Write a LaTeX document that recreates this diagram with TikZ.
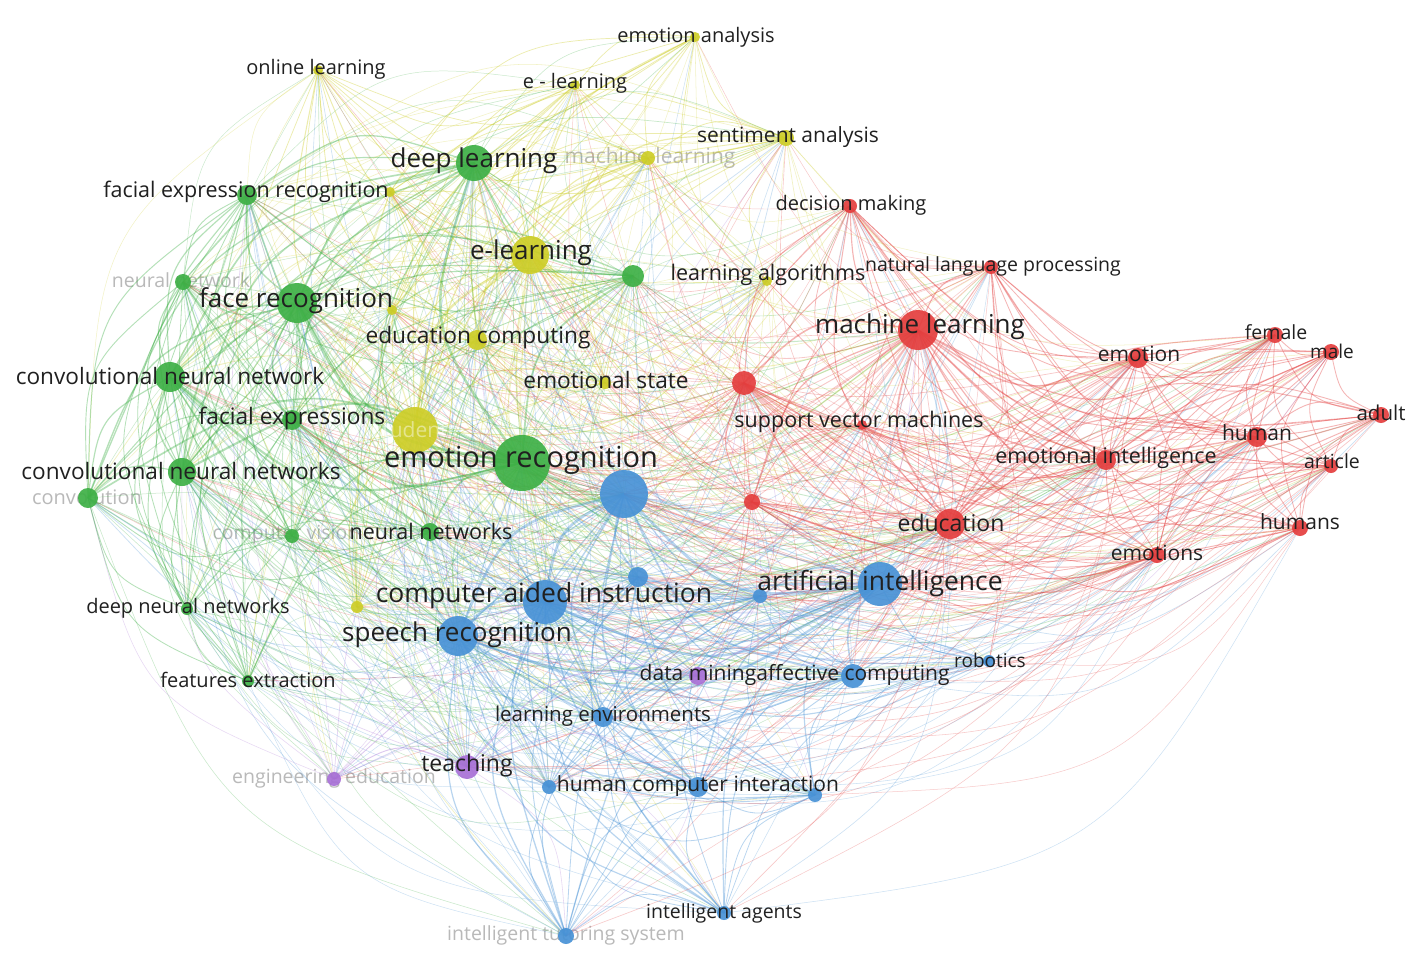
\documentclass[tikz,border=0pt]{standalone}
\usepackage{fontspec}
\setmainfont{Open Sans}
\definecolor{cR}{RGB}{228,62,62}
\definecolor{cG}{RGB}{62,176,70}
\definecolor{cB}{RGB}{72,146,214}
\definecolor{cY}{RGB}{206,206,40}
\definecolor{cP}{RGB}{168,112,214}
\definecolor{labc}{RGB}{32,32,32}
\definecolor{faintc}{RGB}{185,185,185}
\tikzset{
  labdark/.style={text=labc, inner sep=0pt},
  labfaint/.style={text=faintc, inner sep=0pt},
  kw/.style={circle, inner sep=0pt, opacity=0.92},
}
\def\nodelist{
ol/318/70/5/cY/4,
ea/695/37/5/cY/4,
el2/575/85/5/cY/4,
sa/786/138/8/cY/4,
mlh/648/158/7/cY/4,
el/530/255/19/cY/4,
ec/477/340/10/cY/4,
y1/392/310/5/cY/4,
es/605/383/6/cY/4,
st/415/430/23/cY/4,
y2/357/607/6/cY/4,
la/767/281/5/cY/4,
y3/390/192/5/cY/4,
dl/474/163/18/cG/2,
fer/247/195/10/cG/2,
nn1/183/282/8/cG/2,
g1/633/276/11/cG/2,
fr/297/303/20/cG/2,
cnn/170/377/15/cG/2,
fe/292/420/10/cG/2,
er/522/463/28/cG/2,
cnns/182/472/14/cG/2,
cv/88/498/10/cG/2,
cvis/292/536/7/cG/2,
nns/430/532/9/cG/2,
dnn/187/609/6/cG/2,
fex/248/681/6/cG/2,
b1/624/494/24/cB/3,
cai/545/602/22/cB/3,
b2/638/577/10/cB/3,
sr/458/636/20/cB/3,
ai/880/584/22/cB/3,
b3/760/596/7/cB/3,
rob/989/661/6/cB/3,
ac/853/676/12/cB/3,
le/603/717/10/cB/3,
hci/698/787/10/cB/3,
b4/549/787/7/cB/3,
b5/815/795/7/cB/3,
ia/724/913/7/cB/3,
its/566/936/8/cB/3,
dm/698/676/9/cP/5,
te/467/767/12/cP/5,
ee/334/779/7/cP/5,
dm2/850/206/7/cR/1,
nlp/991/267/7/cR/1,
ml/918/330/20/cR/1,
r1/744/383/12/cR/1,
svm/862/425/5/cR/1,
r2/752/502/8/cR/1,
emo/1138/358/10/cR/1,
fem/1275/335/8/cR/1,
mal/1331/352/8/cR/1,
adu/1381/415/8/cR/1,
hum/1257/437/10/cR/1,
art/1331/466/7/cR/1,
ei/1106/460/10/cR/1,
edu/950/524/15/cR/1,
hms/1300/528/8/cR/1,
ems/1157/555/8/cR/1}
\def\labellist{
ol/316/69/20/labdark/online learning,
ea/696/37/20/labdark/emotion analysis,
el2/575/83/20/labdark/e - learning,
sa/788/137/21/labdark/sentiment analysis,
el/531/253/26/labdark/e-learning,
ec/478/338/22.7/labdark/education computing,
es/606/380/22.7/labdark/emotional state,
la/768/275/21.5/labdark/learning algorithms,
dl/474/161/26/labdark/deep learning,
fer/246/192/21.5/labdark/facial expression recognition,
fr/296/301/26/labdark/face recognition,
cnn/170/376/22.6/labdark/convolutional neural network,
fe/292/419/22.7/labdark/facial expressions,
er/521/460/29/labdark/emotion recognition,
cnns/181/471/22.6/labdark/convolutional neural networks,
nns/431/531/21.5/labdark/neural networks,
dnn/188/608/20/labdark/deep neural networks,
fex/248/680/20/labdark/features extraction,
cai/544/596/26.5/labdark/computer aided instruction,
sr/457/635/26/labdark/speech recognition,
ai/880/584/26.5/labdark/artificial intelligence,
rob/990/660/19/labdark/robotics,
ac/853/675/21/labdark/affective computing,
le/603/716/20.5/labdark/learning environments,
hci/698/786/21/labdark/human computer interaction,
ia/724/913/19.5/labdark/intelligent agents,
dm/698/675/21/labdark/data mining,
te/467/766/23/labdark/teaching,
dm2/851/205/20/labdark/decision making,
nlp/993/266/19.5/labdark/natural language processing,
ml/920/327/26/labdark/machine learning,
svm/859/422/21.5/labdark/support vector machines,
emo/1139/354/21/labdark/emotion,
fem/1276/332/19.5/labdark/female,
mal/1332/351/19/labdark/male,
adu/1381/413/20.5/labdark/adult,
hum/1257/433/21/labdark/human,
art/1332/461/19.5/labdark/article,
ei/1106/458/21.5/labdark/emotional intelligence,
edu/951/523/23/labdark/education,
hms/1300/522/21/labdark/humans,
ems/1157/553/21/labdark/emotions}
\def\faintlist{
mlh/650/158/21/labfaint/machine-learning,
nn1/181/280/19.5/labfaint/neural network,
cv/87/497/20/labfaint/convolution,
cvis/286/535/19.5/labfaint/computer vision,
its/566/935/19.5/labfaint/intelligent tutoring system,
ee/334/778/19.5/labfaint/engineering education}
\begin{document}
\begin{tikzpicture}[x=1pt,y=-1pt]
\fill[white] (0,0) rectangle (1418,959);
\useasboundingbox (0,0) rectangle (1418,959);
% coordinates of the keyword positions
\foreach \a/\ax/\ay/\ar/\ac/\ak in \nodelist {
  \coordinate (\a) at (\ax,\ay);
}
% faint (partly hidden) labels lie under the links
\foreach \a/\lx/\ly/\s/\st/\t in \faintlist {
  \node[\st, font=\fontsize{\s}{\s}\selectfont] (l\a) at (\lx,\ly) {\t};
}
% links (curved, like VOSviewer)
\pgfmathsetseed{4242}
\foreach \a/\ax/\ay/\ar/\ac/\ak [count=\i] in \nodelist {
  \foreach \b/\bx/\by/\br/\bc/\bk [count=\j] in \nodelist {
    \ifnum\j>\i\relax
      \pgfmathsetmacro\L{abs(\bx-\ax)+abs(\by-\ay)}
      \ifnum\ak=\bk\relax
        \pgfmathsetmacro\p{\ar*\br/30}
        \pgfmathsetmacro\w{0.6+\ar*\br/260}
        \def\op{0.38}
      \else
        \pgfmathsetmacro\p{0.42*\ar*\br/30*max(0.08,1-\L/1250)}
        \pgfmathsetmacro\w{0.4+\ar*\br/550}
        \def\op{0.28}
      \fi
      \pgfmathsetmacro\u{rnd}
      \ifdim\u pt<\p pt\relax
        \pgfmathsetmacro\cx{(\ax+\bx)/2-0.25*(\by-\ay)}
        \pgfmathsetmacro\cy{(\ay+\by)/2+0.25*(\bx-\ax)}
        \pgfmathsetmacro\v{rnd}
        \ifdim\v pt<0.5pt\relax\edef\lc{\ac}\else\edef\lc{\bc}\fi
        \draw[\lc, line width=\w pt, opacity=\op] (\a) .. controls (\cx,\cy) .. (\b);
      \fi
    \fi
  }
}
% keyword circles
\foreach \a/\ax/\ay/\ar/\ac/\ak in \nodelist {
  \node[kw, fill=\ac, minimum size={2*\ar pt}] (n\a) at (\a) {};
}
% label half hidden in its own circle
\node[text=white, text opacity=0.45, inner sep=0pt, font=\fontsize{21}{21}\selectfont] (lst) at (415,430) {students};
% labels
\foreach \a/\lx/\ly/\s/\st/\t in \labellist {
  \node[\st, font=\fontsize{\s}{\s}\selectfont] (l\a) at (\lx,\ly) {\t};
}
\end{tikzpicture}
\end{document}
